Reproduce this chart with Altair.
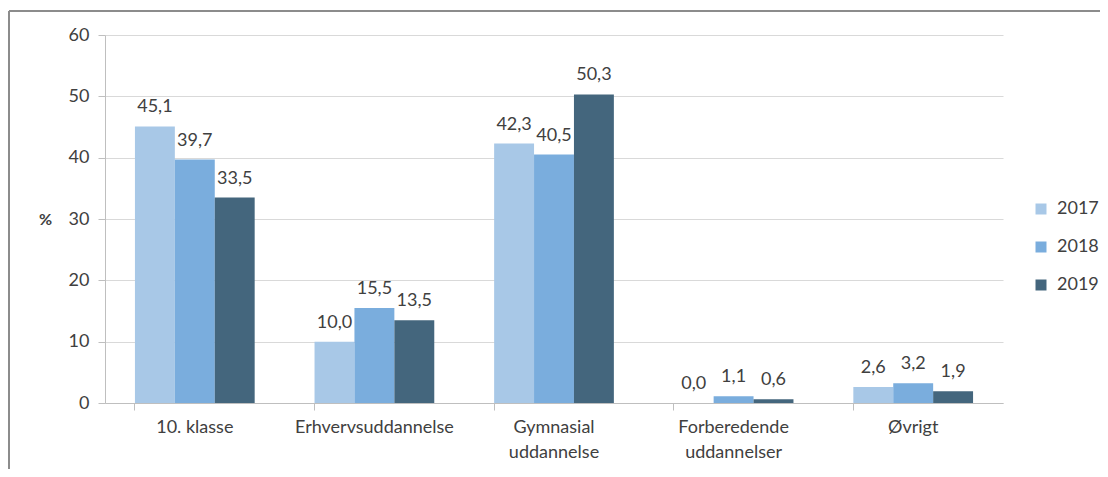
import altair as alt
import pandas as pd

categories = ["10. klasse", "Erhvervsuddannelse", "Gymnasial|uddannelse", "Forberedende|uddannelser", "Øvrigt"]
years = ["2017", "2018", "2019"]
v2017 = [45.1, 10.0, 42.3, 0.0, 2.6]
v2018 = [39.7, 15.5, 40.5, 1.1, 3.2]
v2019 = [33.5, 13.5, 50.3, 0.6, 1.9]
colors = ["#A8C8E7", "#7AADDD", "#44667D"]
y_ticks = [0, 10, 20, 30, 40, 50, 60]

rows = []
for yr, vals in zip(years, [v2017, v2018, v2019]):
    for c, v in zip(categories, vals):
        rows.append({"cat": c, "year": yr, "value": v})
df = pd.DataFrame(rows)

FONT = "Lato"
TXT = "#404040"

base = alt.Chart(df).encode(
    x=alt.X("cat:N", sort=categories, title=None,
            scale=alt.Scale(paddingInner=0.3333, paddingOuter=0.1667),
            axis=alt.Axis(labelAngle=0, labelExpr="split(datum.label, '|')",
                          labelFontSize=18, labelColor=TXT, labelFont=FONT,
                          labelLineHeight=25, labelPadding=8, labelBaseline="top",
                          tickSize=7, tickColor="#BFBFBF", domainColor="#BFBFBF",
                          bandPosition=0, grid=False)),
    xOffset=alt.XOffset("year:N", sort=years, scale=alt.Scale(paddingInner=0, paddingOuter=0)),
    y=alt.Y("value:Q", scale=alt.Scale(domain=[0, 60], nice=False),
            axis=alt.Axis(values=y_ticks, title="%", titleAngle=0, titleX=-60, titleY=184,
                          titleAlign="center", titleBaseline="middle", titleFontSize=16,
                          titleFont=FONT, titleColor=TXT, titleFontWeight="bold",
                          labelFontSize=18, labelColor=TXT, labelFont=FONT, labelPadding=9,
                          tickSize=7, tickColor="#BFBFBF", domainColor="#BFBFBF",
                          gridColor="#D9D9D9")),
)

bars = base.mark_bar().encode(
    color=alt.Color("year:N", sort=years, scale=alt.Scale(domain=years, range=colors),
                    legend=alt.Legend(title=None)),
)

labels = base.mark_text(baseline="alphabetic", dy=-14, fontSize=18, font=FONT, color=TXT).transform_calculate(
    label="replace(format(datum.value, '.1f'), '.', ',')"
).encode(text="label:N")

frame_data = alt.Data(values=[{"a": 1}])
top_line = alt.Chart(frame_data).mark_rule(color="#8C8C8C", strokeWidth=2).encode(
    x=alt.value(-96), x2=alt.value(1000), y=alt.value(-24))
left_line = alt.Chart(frame_data).mark_rule(color="#8C8C8C", strokeWidth=2).encode(
    x=alt.value(-96), y=alt.value(-24), y2=alt.value(450))

chart = alt.layer(bars, labels, top_line, left_line).properties(
    width=898, height=368,
    autosize=alt.AutoSizeParams(type="none"),
    padding={"left": 97, "top": 27, "right": 97, "bottom": 66},
).configure_view(stroke=None).configure_legend(
    orient="none", legendX=927, legendY=165, symbolType="square", symbolSize=121,
    labelFontSize=18, labelFont=FONT, labelColor=TXT, rowPadding=20, padding=0,
    labelOffset=7, symbolStrokeWidth=0,
)

chart.save("out.html", embed_options={"renderer": "svg", "actions": False})
